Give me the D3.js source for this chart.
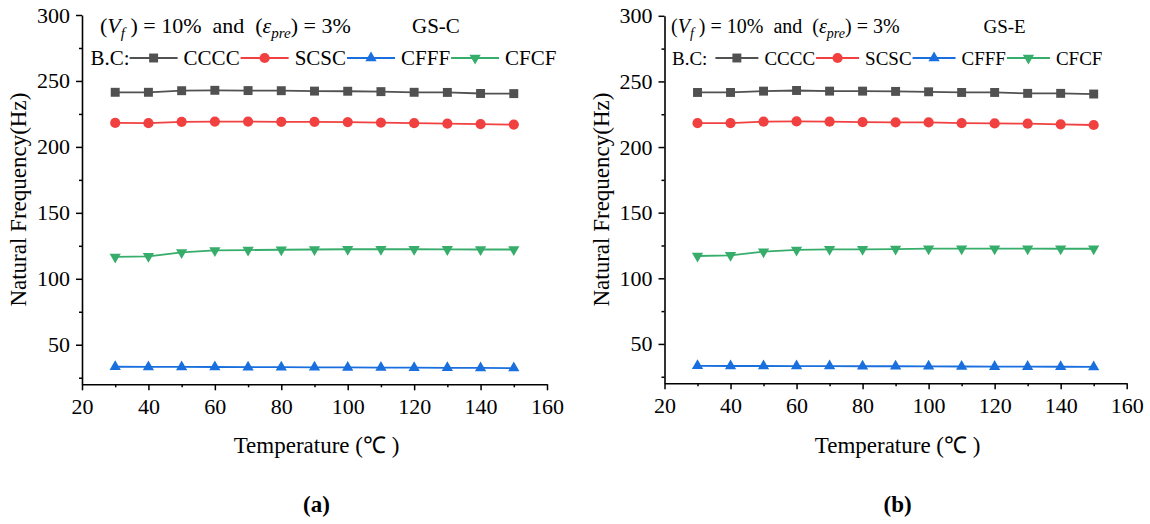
<!DOCTYPE html>
<html>
<head>
<meta charset="utf-8">
<script src="https://cdn.jsdelivr.net/npm/d3@7/dist/d3.min.js"></script>
<style>
  html, body { margin: 0; padding: 0; background: #fff; }
  svg { display: block; font-family: "Liberation Serif", "Times New Roman", serif; }
  text { white-space: pre; }
</style>
</head>
<body>
<svg id="chart" width="1150" height="524"></svg>
<script>
// Temperatures (°C) at which the natural frequency was computed
const temperatures = [30, 40, 50, 60, 70, 80, 90, 100, 110, 120, 130, 140, 150];

// Boundary conditions shown in the legend
const boundaryConditions = ["CCCC", "SCSC", "CFFF", "CFCF"];

// Natural frequency (Hz) – GS-C distribution
const gsC_CCCC = [241.4, 241.4, 242.6, 242.9, 242.7, 242.6, 242.3, 242.2, 241.9, 241.4, 241.3, 240.5, 240.4];
const gsC_SCSC = [218.2, 218.0, 219.0, 219.2, 219.2, 219.0, 219.0, 218.8, 218.4, 218.0, 217.7, 217.3, 216.9];
const gsC_CFFF = [33.3, 33.2, 33.2, 33.1, 33.0, 33.0, 32.9, 32.8, 32.7, 32.6, 32.5, 32.4, 32.3];
const gsC_CFCF = [116.6, 117.0, 120.0, 121.5, 121.8, 122.0, 122.2, 122.4, 122.4, 122.4, 122.3, 122.2, 122.2];

// Natural frequency (Hz) – GS-E distribution
const gsE_CCCC = [241.6, 241.6, 242.6, 243.1, 242.6, 242.6, 242.4, 242.1, 241.6, 241.6, 240.9, 240.9, 240.4];
const gsE_SCSC = [218.3, 218.3, 219.3, 219.5, 219.3, 219.0, 218.8, 218.8, 218.3, 218.0, 217.8, 217.3, 216.8];
const gsE_CFFF = [33.3, 33.2, 33.2, 33.1, 33.1, 33.0, 33.0, 32.9, 32.8, 32.7, 32.7, 32.6, 32.5];
const gsE_CFCF = [117.0, 117.5, 120.3, 121.6, 122.1, 122.1, 122.3, 122.6, 122.6, 122.6, 122.6, 122.5, 122.5];

// Axis ticks
const xMajorTicks = [20, 40, 60, 80, 100, 120, 140, 160];
const xMinorTicks = [30, 50, 70, 90, 110, 130, 150];
const yMajorTicks = [50, 100, 150, 200, 250, 300];
const yMinorTicks = [25, 75, 125, 175, 225, 275];

const xDomain = [20, 160];
const yDomain = [20, 300];

// Series styling (colour + marker shape)
const seriesColors = ["#515151", "#F14040", "#1A6FDF", "#37AD6B"];
const seriesSymbols = [
  { type: d3.symbolSquare, size: 80, rotate: 0 },
  { type: d3.symbolCircle, size: 82, rotate: 0 },
  { type: d3.symbolTriangle, size: 55, rotate: 0 },
  { type: d3.symbolTriangle, size: 55, rotate: 180 }
];

// Panel layout
const panels = [
  {
    tag: "GS-C", caption: "(a)",
    values: [gsC_CCCC, gsC_SCSC, gsC_CFFF, gsC_CFCF],
    left: 82, right: 547, top: 15, bottom: 384.3,
    titleX: 100, tagX: 412, legendX: 90.5, bcGap: 0,
    headFont: 22, subFont: 15, legendFont: 21, lineLen: 48
  },
  {
    tag: "GS-E", caption: "(b)",
    values: [gsE_CCCC, gsE_SCSC, gsE_CFFF, gsE_CFCF],
    left: 664.5, right: 1126.7, top: 15.8, bottom: 383.3,
    titleX: 671, tagX: 983.5, legendX: 672, bcGap: 8,
    headFont: 20, subFont: 14, legendFont: 19, lineLen: 43
  }
];

const svg = d3.select("#chart");
svg.append("rect").attr("width", 1150).attr("height", 524).attr("fill", "#fff");

const tickFont = 22;
const titleFont = 23;

function markerPath(i) {
  const s = seriesSymbols[i];
  return d3.symbol().type(s.type).size(s.size)();
}

panels.forEach(p => {
  const g = svg.append("g");
  const x = d3.scaleLinear().domain(xDomain).range([p.left, p.right]);
  const y = d3.scaleLinear().domain(yDomain).range([p.bottom, p.top]);

  // minor ticks
  g.append("g")
    .attr("transform", `translate(0,${p.bottom})`)
    .call(d3.axisBottom(x).tickValues(xMinorTicks).tickSize(3).tickSizeOuter(0).tickFormat(""))
    .call(a => a.select(".domain").remove());
  g.append("g")
    .attr("transform", `translate(${p.left},0)`)
    .call(d3.axisLeft(y).tickValues(yMinorTicks).tickSize(3).tickSizeOuter(0).tickFormat(""))
    .call(a => a.select(".domain").remove());

  // major axes
  const xAxis = g.append("g")
    .attr("transform", `translate(0,${p.bottom})`)
    .call(d3.axisBottom(x).tickValues(xMajorTicks).tickSize(6).tickSizeOuter(0).tickPadding(8.5).tickFormat(d3.format("d")));
  const yAxis = g.append("g")
    .attr("transform", `translate(${p.left},0)`)
    .call(d3.axisLeft(y).tickValues(yMajorTicks).tickSize(6).tickSizeOuter(0).tickPadding(6).tickFormat(d3.format("d")));

  [xAxis, yAxis].forEach(a => {
    a.attr("font-family", null).attr("font-size", null);
    a.selectAll("text").attr("font-size", tickFont).attr("fill", "#000");
    a.selectAll("line").attr("stroke", "#000").attr("stroke-width", 1.5);
    a.select(".domain").attr("stroke", "#000").attr("stroke-width", 1.6);
  });
  g.selectAll("line").attr("stroke", "#000").attr("stroke-width", 1.5);

  // axis titles
  g.append("text")
    .attr("x", (p.left + p.right) / 2 + 2)
    .attr("y", 453)
    .attr("text-anchor", "middle")
    .attr("font-size", titleFont)
    .text("Temperature (℃ )");
  g.append("text")
    .attr("transform", `translate(${p.left - 56},${(p.top + p.bottom) / 2}) rotate(-90)`)
    .attr("text-anchor", "middle")
    .attr("font-size", titleFont)
    .text("Natural Frequency(Hz)");

  // panel caption
  g.append("text")
    .attr("x", (p.left + p.right) / 2 + 2)
    .attr("y", 512)
    .attr("text-anchor", "middle")
    .attr("font-size", 23)
    .attr("font-weight", "bold")
    .text(p.caption);

  // series lines and markers
  p.values.forEach((vals, i) => {
    const pts = temperatures.map((t, k) => [t, vals[k]]);
    g.append("path")
      .datum(pts)
      .attr("fill", "none")
      .attr("stroke", seriesColors[i])
      .attr("stroke-width", 1.8)
      .attr("d", d3.line().x(d => x(d[0])).y(d => y(d[1])));
    g.selectAll(null)
      .data(pts)
      .enter()
      .append("path")
      .attr("d", markerPath(i))
      .attr("fill", seriesColors[i])
      .attr("transform", d => `translate(${x(d[0])},${y(d[1])}) rotate(${seriesSymbols[i].rotate})`);
  });

  // heading line: (V_f) = 10%  and  (ε_pre) = 3%
  const head = g.append("text")
    .attr("x", p.titleX)
    .attr("y", 33)
    .attr("font-size", p.headFont);
  head.append("tspan").text("(");
  head.append("tspan").attr("font-style", "italic").text("V");
  head.append("tspan").attr("font-style", "italic").attr("font-size", p.subFont).attr("dy", 5).text("f");
  head.append("tspan").attr("dy", -5).text(" ) = 10%  and  (");
  head.append("tspan").attr("font-style", "italic").text("ε");
  head.append("tspan").attr("font-style", "italic").attr("font-size", p.subFont).attr("dy", 5).text("pre");
  head.append("tspan").attr("dy", -5).text(") = 3%");

  g.append("text")
    .attr("x", p.tagX)
    .attr("y", 33)
    .attr("font-size", p.legendFont)
    .text(p.tag);

  // legend row
  const ly = 65;
  let cx = p.legendX;
  const bc = g.append("text").attr("x", cx).attr("y", ly).attr("font-size", p.legendFont).text("B.C:");
  cx += bc.node().getComputedTextLength() + p.bcGap;
  boundaryConditions.forEach((name, i) => {
    g.append("line")
      .attr("x1", cx).attr("x2", cx + p.lineLen)
      .attr("y1", ly - 7).attr("y2", ly - 7)
      .attr("stroke", seriesColors[i])
      .attr("stroke-width", 1.8);
    g.append("path")
      .attr("d", markerPath(i))
      .attr("fill", seriesColors[i])
      .attr("transform", `translate(${cx + p.lineLen / 2},${ly - 7}) rotate(${seriesSymbols[i].rotate})`);
    cx += p.lineLen + 6;
    const t = g.append("text").attr("x", cx).attr("y", ly).attr("font-size", p.legendFont).text(name);
    cx += t.node().getComputedTextLength() + 1;
  });
});
</script>
</body>
</html>
